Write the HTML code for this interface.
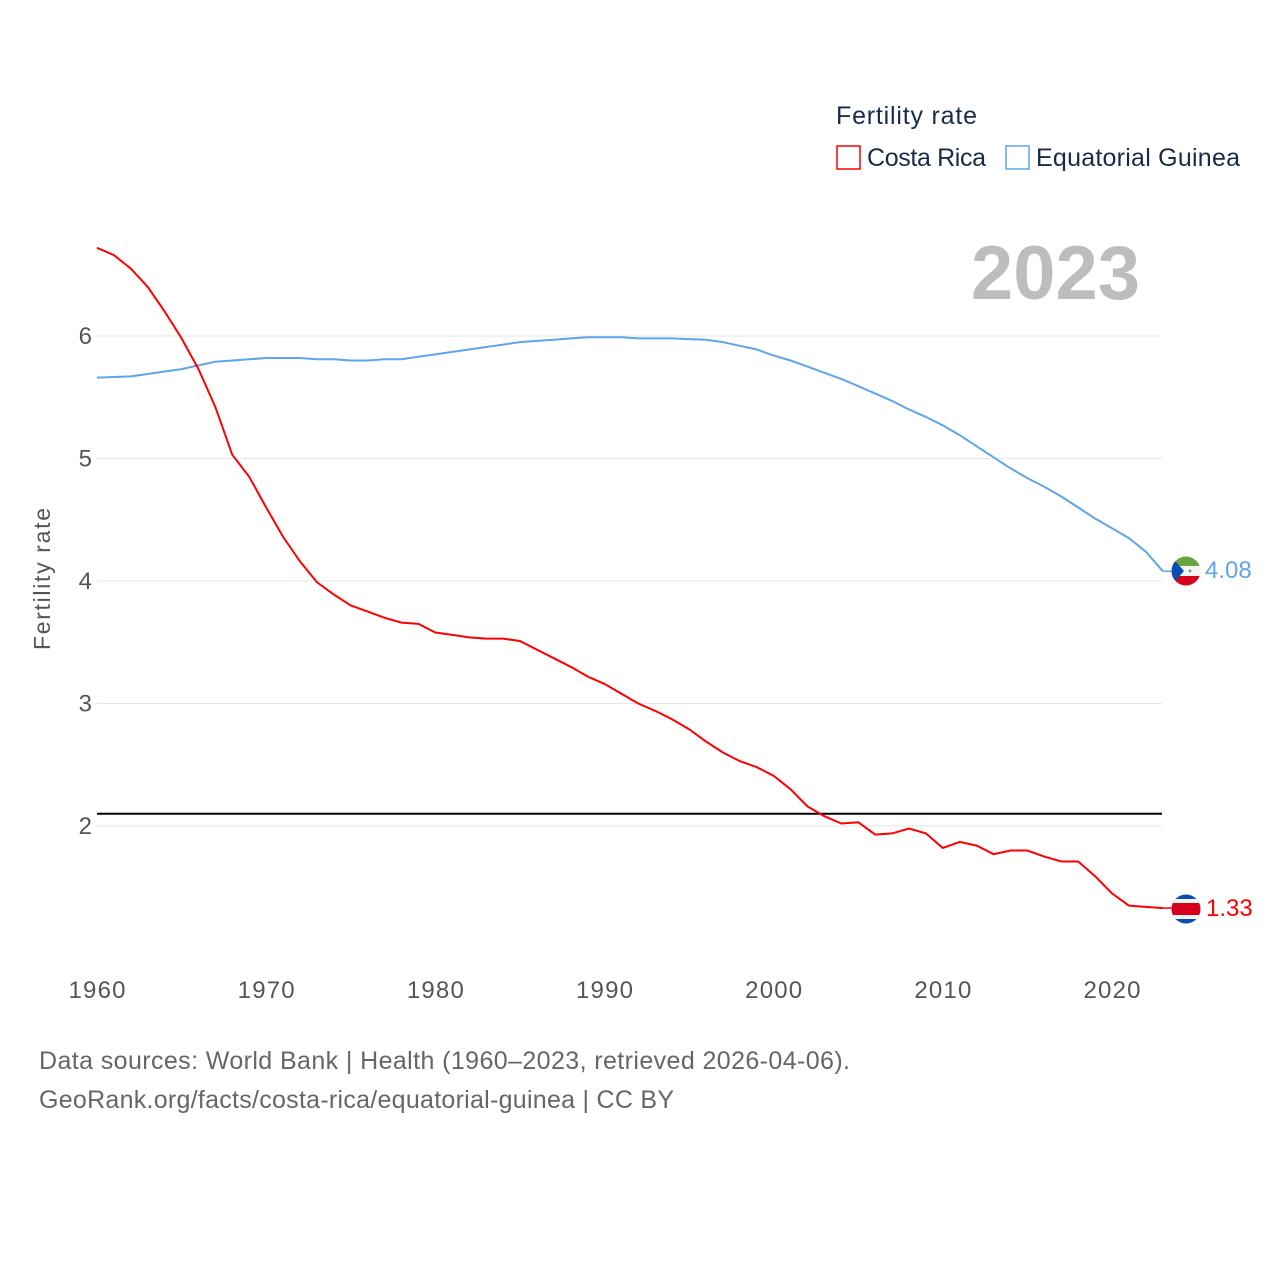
<!DOCTYPE html>
<html><head><meta charset="utf-8"><style>
body{margin:0;background:#fff;font-family:"Liberation Sans",sans-serif}
svg text{font-family:"Liberation Sans",sans-serif}
</style></head><body>
<svg width="1280" height="1280" viewBox="0 0 1280 1280">
<defs>
<clipPath id="c1"><circle cx="1186" cy="571" r="14.5"/></clipPath>
<clipPath id="c2"><circle cx="1186" cy="909" r="14.5"/></clipPath>
</defs>
<g id="grid"></g>
<g id="yticks"></g>
<g id="xticks"></g>
<text x="50" y="579" transform="rotate(-90 50 579)" text-anchor="middle" font-size="23" fill="#555" textLength="142">Fertility rate</text>
<text x="1140" y="299" text-anchor="end" font-size="76" font-weight="bold" fill="#bdbdbd">2023</text>
<g>
<text x="836" y="124" font-size="25" fill="#1a2a4a" textLength="141">Fertility rate</text>
<g><rect x="837" y="146" width="23" height="23" fill="none" stroke="#ff0000" stroke-width="1.5"/><text x="867" y="166" font-size="25" fill="#1a2a4a" textLength="119">Costa Rica</text></g>
<g><rect x="1006" y="146" width="23" height="23" fill="none" stroke="#5ea5ea" stroke-width="1.5"/><text x="1036" y="166" font-size="25" fill="#1a2a4a" textLength="204">Equatorial Guinea</text></g>
</g>
<line id="ref" x1="97" x2="1162" stroke="#000" stroke-width="2"/>
<path id="eg" fill="none" stroke="#5ea5ea" stroke-width="2"/>
<path id="cr" fill="none" stroke="#ff0000" stroke-width="2"/>
<line id="egLead" stroke="#5ea5ea" stroke-width="1.5"/>
<line id="crLead" stroke="#ff0000" stroke-width="1.5"/>
<g id="egFlag" clip-path="url(#c1)">
<rect x="1171" y="556" width="30" height="10" fill="#6ba341"/><rect x="1171" y="566" width="30" height="10" fill="#f4f4f4"/><rect x="1171" y="576" width="30" height="10" fill="#d6001c"/>
<polygon points="1171,556 1184,571 1171,586" fill="#0a4fb0"/><circle cx="1190" cy="571" r="1.5" fill="#6a7"/></g>
<g id="crFlag" clip-path="url(#c2)">
<rect x="1171" y="894" width="30" height="30" fill="#0a4fb0"/><rect x="1171" y="899" width="30" height="20" fill="#f4f4f4"/><rect x="1171" y="903" width="30" height="12" fill="#d6001c"/></g>
<text id="egVal" x="1205" y="578" font-size="24" fill="#5ea5ea"></text>
<text id="crVal" x="1206" y="916" font-size="24" fill="#ff0000"></text>
<text x="39" y="1069" font-size="25" fill="#666" textLength="811">Data sources: World Bank | Health (1960–2023, retrieved 2026-04-06).</text>
<text x="39" y="1108" font-size="25" fill="#666" textLength="635">GeoRank.org/facts/costa-rica/equatorial-guinea | CC BY</text>
</svg>
<script>
const years=[];for(let y=1960;y<=2023;y++)years.push(y);
const costaRica=[6.72,6.66,6.55,6.40,6.20,5.98,5.73,5.42,5.03,4.85,4.60,4.36,4.16,3.99,3.89,3.80,3.75,3.70,3.66,3.65,3.58,3.56,3.54,3.53,3.53,3.51,3.44,3.37,3.30,3.22,3.16,3.08,3.00,2.94,2.87,2.79,2.69,2.60,2.53,2.48,2.41,2.30,2.16,2.08,2.02,2.03,1.93,1.94,1.98,1.94,1.82,1.87,1.84,1.77,1.80,1.80,1.75,1.71,1.71,1.59,1.45,1.35,1.34,1.33];
const eqGuinea=[5.66,5.665,5.67,5.69,5.71,5.73,5.76,5.79,5.80,5.81,5.82,5.82,5.82,5.81,5.81,5.80,5.80,5.81,5.81,5.83,5.85,5.87,5.89,5.91,5.93,5.95,5.96,5.97,5.98,5.99,5.99,5.99,5.98,5.98,5.98,5.975,5.97,5.95,5.92,5.89,5.84,5.80,5.75,5.70,5.65,5.59,5.53,5.47,5.40,5.34,5.27,5.19,5.10,5.01,4.92,4.84,4.77,4.69,4.60,4.51,4.43,4.35,4.24,4.08];
const yTicks=[2,3,4,5,6];
const xTicks=[1960,1970,1980,1990,2000,2010,2020];
const replacement=2.1;
const X=y=>97+(y-1960)*(1112-97)/60;
const Y=v=>826-(v-2)*122.5;
const NS='http://www.w3.org/2000/svg';
function mk(t,a,p){const e=document.createElementNS(NS,t);for(const k in a)e.setAttribute(k,a[k]);p.appendChild(e);return e;}
const g=document.getElementById('grid'),yt=document.getElementById('yticks'),xt=document.getElementById('xticks');
yTicks.forEach(v=>{const l=mk('line',{x1:97,x2:1162,y1:Y(v),y2:Y(v),stroke:'#e6e6e6','stroke-width':1},g);


const t=mk('text',{x:92,y:Y(v)+8,'text-anchor':'end','font-size':24,fill:'#555'},yt);t.textContent=v;

});
xTicks.forEach(v=>{const t=mk('text',{x:X(v),y:998,'text-anchor':'middle','font-size':24,fill:'#555',textLength:57},xt);t.textContent=v;

});
const r=document.getElementById('ref');r.setAttribute('y1',Y(replacement));r.setAttribute('y2',Y(replacement));
const path=a=>a.map((v,i)=>(i?'L':'M')+X(years[i]).toFixed(1)+','+Y(v).toFixed(1)).join('');
document.getElementById('cr').setAttribute('d',path(costaRica));
document.getElementById('eg').setAttribute('d',path(eqGuinea));
const last=years.length-1;
const el=document.getElementById('egLead');el.setAttribute('x1',X(years[last]));el.setAttribute('x2',1172);el.setAttribute('y1',Y(eqGuinea[last]));el.setAttribute('y2',Y(eqGuinea[last]));
const cl=document.getElementById('crLead');cl.setAttribute('x1',X(years[last]));cl.setAttribute('x2',1172);cl.setAttribute('y1',Y(costaRica[last]));cl.setAttribute('y2',Y(costaRica[last]));
document.getElementById('egVal').textContent=eqGuinea[last].toFixed(2);
document.getElementById('crVal').textContent=costaRica[last].toFixed(2);
</script>
</body></html>
